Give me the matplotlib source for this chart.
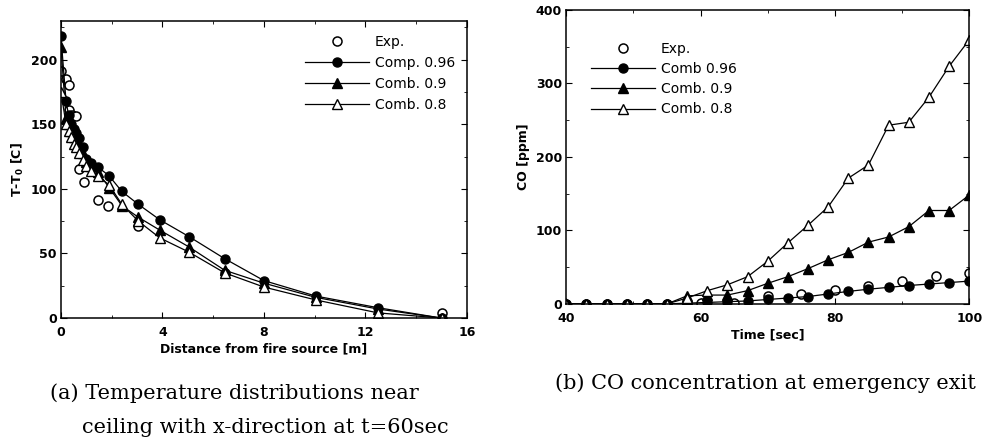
import matplotlib
matplotlib.use('Agg')
import matplotlib.pyplot as plt
from matplotlib.ticker import MultipleLocator

# (a) temperature near ceiling, t=60 s
dist_exp = [0.0, 0.2, 0.3, 0.3, 0.45, 0.6, 0.7, 0.9, 1.45, 1.85, 3.05, 6.45, 15.0]
temp_exp = [191, 185, 180, 161, 157, 156, 115, 105, 91, 87, 71, 35, 4]

dist_comp = [0.0, 0.2, 0.3, 0.4, 0.5, 0.6, 0.7, 0.85, 1.0, 1.2, 1.45, 1.9, 2.4, 3.05, 3.9, 5.05, 6.45, 8.0, 10.05, 12.5, 15.0]
temp_096 = [218, 168, 157, 150, 146, 143, 139, 132, 123, 120, 117, 110, 98, 88, 76, 63, 46, 29, 17, 8, 0]
temp_09 = [210, 155, 150, 145, 140, 137, 134, 128, 121, 118, 113, 101, 87, 78, 68, 55, 37, 27, 16, 7, 0]
temp_08 = [175, 150, 145, 140, 135, 132, 128, 122, 118, 114, 110, 103, 88, 75, 62, 51, 35, 24, 14, 4, 0]

# (b) CO at emergency exit
time_exp = [40, 43, 46, 49, 52, 55, 58, 60, 65, 70, 75, 80, 85, 90, 95, 100]
co_exp = [0, 0, 0, 0, 0, 0, 0, 1, 1, 11, 14, 19, 24, 31, 38, 42]

time_sim = [40, 43, 46, 49, 52, 55, 58, 61, 64, 67, 70, 73, 76, 79, 82, 85, 88, 91, 94, 97, 100]
co_096 = [0, 0, 0, 0, 0, 0, 1, 2, 3, 4, 6, 8, 10, 13.5, 17, 20, 22.5, 25, 27, 29, 31]
co_09 = [0, 0, 0, 0, 0, 0, 11, 12, 12, 18, 28, 37, 48, 60, 70, 84, 91, 105, 127, 127, 148]
co_08 = [0, 0, 0, 0, 0, 0, 8, 18, 26, 37, 58, 83, 107, 132, 171, 189, 243, 247, 281, 323, 359]

fig = plt.figure(figsize=(9.83, 4.43), dpi=100)
ax1 = fig.add_axes([0.062, 0.282, 0.413, 0.671])
ax2 = fig.add_axes([0.576, 0.314, 0.410, 0.664])

lw = 0.9
ms = 6.5

# left panel
ax1.plot(dist_exp, temp_exp, 'o', mfc='white', mec='black', ms=ms, mew=1.1, label='Exp.')
ax1.plot(dist_comp, temp_096, 'k-o', lw=lw, ms=ms, label='Comp. 0.96')
ax1.plot(dist_comp, temp_09, 'k-^', lw=lw, ms=ms, label='Comb. 0.9')
ax1.plot(dist_comp, temp_08, 'k-^', lw=lw, ms=ms, mfc='white', label='Comb. 0.8')
ax1.set_xlim(0, 16)
ax1.set_ylim(0, 230)
ax1.xaxis.set_major_locator(MultipleLocator(4))
ax1.xaxis.set_minor_locator(MultipleLocator(2))
ax1.yaxis.set_major_locator(MultipleLocator(50))
ax1.yaxis.set_minor_locator(MultipleLocator(25))
ax1.set_xlabel('Distance from fire source [m]', fontsize=9, fontweight='bold', labelpad=2)
ax1.set_ylabel('T-T$_\\mathbf{0}$ [C]', fontsize=9, fontweight='bold', labelpad=3)
ax1.legend(loc='upper left', bbox_to_anchor=(0.585, 0.975), frameon=False, fontsize=10,
           handlelength=4.6, handletextpad=0.4, labelspacing=0.5, borderpad=0)

# right panel
ax2.plot(time_exp, co_exp, 'o', mfc='white', mec='black', ms=ms, mew=1.1, label='Exp.')
ax2.plot(time_sim, co_096, 'k-o', lw=lw, ms=ms, label='Comb 0.96')
ax2.plot(time_sim, co_09, 'k-^', lw=lw, ms=ms, label='Comb. 0.9')
ax2.plot(time_sim, co_08, 'k-^', lw=lw, ms=ms, mfc='white', label='Comb. 0.8')
ax2.set_xlim(40, 100)
ax2.set_ylim(0, 400)
ax2.xaxis.set_major_locator(MultipleLocator(20))
ax2.xaxis.set_minor_locator(MultipleLocator(10))
ax2.yaxis.set_major_locator(MultipleLocator(100))
ax2.yaxis.set_minor_locator(MultipleLocator(50))
ax2.set_xlabel('Time [sec]', fontsize=9, fontweight='bold', labelpad=2)
ax2.set_ylabel('CO [ppm]', fontsize=9, fontweight='bold', labelpad=4)
ax2.legend(loc='upper left', bbox_to_anchor=(0.045, 0.915), frameon=False, fontsize=10,
           handlelength=4.6, handletextpad=0.4, labelspacing=0.45, borderpad=0)

for ax in (ax1, ax2):
    ax.tick_params(which='both', direction='in', top=True, right=True, labelsize=9)
    ax.tick_params(axis='x', pad=6)
    ax.tick_params(axis='y', pad=3)
    ax.tick_params(which='major', length=4)
    ax.tick_params(which='minor', length=2.5)
    for lab in ax.get_xticklabels() + ax.get_yticklabels():
        lab.set_fontweight('bold')
    for s in ax.spines.values():
        s.set_linewidth(1.1)

# captions
fig.text(0.051, 0.113, '(a) Temperature distributions near', fontsize=15,
         family='DejaVu Serif', va='center')
fig.text(0.083, 0.034, 'ceiling with x-direction at t=60sec', fontsize=15,
         family='DejaVu Serif', va='center')
fig.text(0.565, 0.135, '(b) CO concentration at emergency exit', fontsize=15,
         family='DejaVu Serif', va='center')

fig.savefig('out.png', dpi=100)
